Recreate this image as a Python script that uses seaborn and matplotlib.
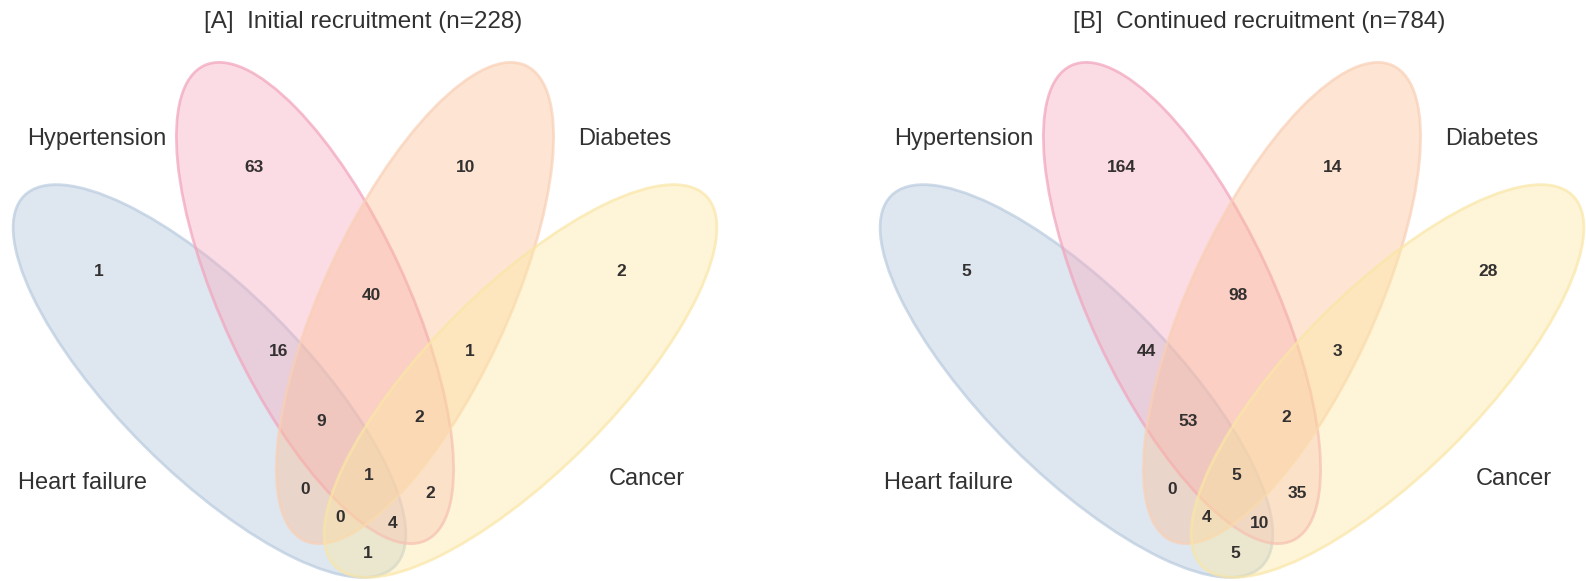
import matplotlib
matplotlib.use("Agg")
import matplotlib.pyplot as plt
from matplotlib.patches import Ellipse
import seaborn as sns

# ---- data -------------------------------------------------------------
set_names = ["Heart failure", "Hypertension", "Diabetes", "Cancer"]
panel_titles = ["[A]  Initial recruitment (n=228)",
                "[B]  Continued recruitment (n=784)"]

# Venn regions, named by the sets they belong to (HF, HT, DM, CA)
regions = ["HF", "HT", "DM", "CA",
           "HF&HT", "HT&DM", "DM&CA",
           "HF&HT&DM", "HT&DM&CA", "HF&HT&DM&CA",
           "HF&DM", "HT&CA", "HF&DM&CA", "HF&HT&CA", "HF&CA"]
counts_initial = [1, 63, 10, 2, 16, 40, 1, 9, 2, 1, 0, 2, 0, 4, 1]
counts_continued = [5, 164, 14, 28, 44, 98, 3, 53, 2, 5, 0, 35, 4, 10, 5]

# ---- layout (pixel units, x relative to the diagram centre, y downwards) --
ellipse_centres = [(-155.5, 381), (-50, 303), (50, 303), (155.5, 381)]
ellipse_angles = [45, 65, 115, 135]
semi_major, semi_minor = 262, 92

region_xy = {
    "HF": (-266, 272), "HT": (-111, 167), "DM": (101, 167), "CA": (256, 272),
    "HF&HT": (-86, 351), "HT&DM": (6, 295), "DM&CA": (105, 351),
    "HF&HT&DM": (-44, 422), "HT&DM&CA": (54, 418), "HF&HT&DM&CA": (4, 475),
    "HF&DM": (-60, 490), "HT&CA": (65, 493), "HF&DM&CA": (-25, 517),
    "HF&HT&CA": (28, 523), "HF&CA": (3, 553),
}
set_label_xy = [(-283, 483), (-268, 139), (260, 139), (282, 479)]
panel_centres = [365, 439]
title_dx = [-2, 27]

# ---- style ------------------------------------------------------------
sns.set_theme(style="white")
plt.rcParams["font.family"] = ["Liberation Sans", "DejaVu Sans"]

fill_palette = sns.color_palette(["#b2c4da", "#f7acc0", "#fbbf98", "#fde9a2"])
edge_palette = sns.color_palette(["#b9cbdf", "#f2a3bc", "#f9d0b6", "#fae6a6"])
fill_alpha, edge_alpha = 0.42, 0.7
text_dark = "#333030"

W, H = 1586, 581
fig = plt.figure(figsize=(W / 100, H / 100), dpi=100)

for p, (counts, title) in enumerate(zip([counts_initial, counts_continued],
                                        panel_titles)):
    ax = fig.add_axes([0.5 * p, 0, 0.5, 1])
    ax.set_xlim(0, W / 2)
    ax.set_ylim(H, 0)
    ax.set_axis_off()
    cx = panel_centres[p]

    for (dx, y), ang, fc, ec in zip(ellipse_centres, ellipse_angles,
                                    fill_palette, edge_palette):
        ax.add_patch(Ellipse((cx + dx, y), 2 * semi_major, 2 * semi_minor,
                             angle=ang, facecolor=(*fc, fill_alpha),
                             edgecolor=(*ec, edge_alpha), linewidth=2.0))

    for reg, val in zip(regions, counts):
        dx, y = region_xy[reg]
        ax.text(cx + dx, y, str(val), ha="center", va="center",
                fontsize=12.5, fontweight="bold", color=text_dark)

    for name, (dx, y) in zip(set_names, set_label_xy):
        ax.text(cx + dx, y, name, ha="center", va="center",
                fontsize=17, color=text_dark)

    ax.text(cx + title_dx[p], 22, title, ha="center", va="center",
            fontsize=17.5, color=text_dark)

fig.savefig("out.png", dpi=100)
